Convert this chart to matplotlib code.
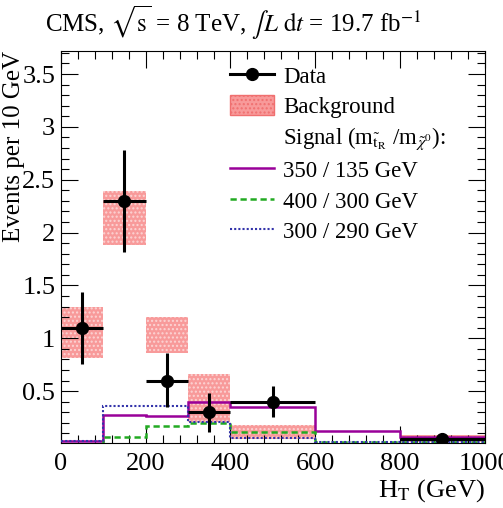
"""H_T distribution: data, background band and three signal points."""

import matplotlib
matplotlib.use("Agg")
import matplotlib.pyplot as plt
from matplotlib.lines import Line2D
from matplotlib.patches import Patch
from matplotlib.ticker import MultipleLocator

# bin edges (GeV) and content per 10 GeV
edges = [0, 100, 200, 300, 400, 600, 800, 1000]

data_x = [50, 150, 250, 350, 500, 900]
data_xerr = [50, 50, 50, 50, 100, 100]
data_y = [1.10, 2.30, 0.60, 0.30, 0.40, 0.047]
data_err_lo = [0.34, 0.48, 0.25, 0.185, 0.145, 0.0]
data_err_hi = [0.34, 0.48, 0.26, 0.18, 0.15, 0.0]

bkg_lo = [0.81, 1.88, 0.86, 0.21, 0.05, 0.0, 0.02]
bkg_hi = [1.30, 2.39, 1.20, 0.66, 0.18, 0.0, 0.09]

sig_350_135 = [0.03, 0.275, 0.265, 0.395, 0.35, 0.12, 0.062]
sig_400_300 = [0.005, 0.065, 0.17, 0.20, 0.11, 0.02, 0.02]
sig_300_290 = [0.03, 0.36, 0.36, 0.21, 0.055, 0.02, 0.02]

plt.rcParams["font.family"] = ["Liberation Serif", "DejaVu Serif"]
plt.rcParams["mathtext.fontset"] = "stix"
plt.rcParams["hatch.linewidth"] = 1.0

fig = plt.figure(figsize=(5.03, 5.08), dpi=100)
ax = fig.add_axes([0.121, 0.128, 0.843, 0.772])

# background boxes
for i in range(len(bkg_lo)):
    if bkg_hi[i] - bkg_lo[i] <= 0:
        continue
    ax.bar(edges[i], bkg_hi[i] - bkg_lo[i], width=edges[i + 1] - edges[i],
           bottom=bkg_lo[i], align="edge", facecolor="#f89a9a",
           edgecolor="#fcd4d4", hatch="....", linewidth=0, zorder=1)

ax.stairs(sig_350_135, edges, baseline=None, color="#990099", lw=1.8, zorder=3)
ax.stairs(sig_400_300, edges, baseline=None, color="#22aa22", lw=1.8,
          linestyle=(0, (2.5, 1.5)), zorder=3)
ax.stairs(sig_300_290, edges, baseline=None, color="#3333aa", lw=1.5,
          linestyle=(0, (1, 1)), zorder=3)

ax.errorbar(data_x, data_y, xerr=data_xerr, yerr=[data_err_lo, data_err_hi],
            fmt="o", color="black", ms=8.5, elinewidth=2.2, capsize=0, zorder=5)

ax.set_xlim(0, 1000)
ax.set_ylim(0.01, 3.72)
ax.xaxis.set_major_locator(MultipleLocator(200))
ax.xaxis.set_minor_locator(MultipleLocator(40))
ax.set_yticks([0.5, 1, 1.5, 2, 2.5, 3, 3.5])
ax.set_yticklabels(["0.5", "1", "1.5", "2", "2.5", "3", "3.5"])
ax.yaxis.set_minor_locator(MultipleLocator(0.1))
ax.tick_params(which="both", direction="in", top=True, right=True,
               labelsize=19, width=0.8)
ax.tick_params(axis="x", pad=7)
ax.tick_params(axis="y", pad=4)
ax.tick_params(which="major", length=12)
ax.tick_params(which="minor", length=6)
for s in ax.spines.values():
    s.set_linewidth(0.8)

ax.set_xlabel(r"H$_\mathrm{T}$ (GeV)", loc="right", fontsize=19, labelpad=2)
ax.set_ylabel("Events per 10 GeV", loc="top", fontsize=18)
ax.yaxis.set_label_coords(-0.085, 1.0)

fig.text(0.089, 0.937,
         r"CMS, $\sqrt{\mathrm{s}}$ = 8 TeV, $\int L\ \mathrm{d}t$ = 19.7 fb$^{\mathrm{-1}}$",
         fontsize=18, ha="left", va="baseline")

handles = [
    Line2D([], [], color="black", marker="o", ms=8.5, lw=2.2),
    Patch(facecolor="#f89a9a", edgecolor="#f07070", hatch="....", lw=1),
    Line2D([], [], color="none"),
    Line2D([], [], color="#990099", lw=1.8),
    Line2D([], [], color="#22aa22", lw=1.8, linestyle=(0, (2.5, 1.5))),
    Line2D([], [], color="#3333aa", lw=1.5, linestyle=(0, (1, 1))),
]
labels = [
    "Data",
    "Background",
    r"Signal (m$_{\tilde{\mathrm{t}}_\mathrm{R}}$ /m$_{\tilde{\chi}^0}$):",
    "350 / 135 GeV",
    "400 / 300 GeV",
    "300 / 290 GeV",
]
ax.legend(handles, labels, loc="upper left", bbox_to_anchor=(0.40, 0.965),
          frameon=False, fontsize=16.5, handlelength=1.9, handleheight=1.0,
          labelspacing=0.32, handletextpad=0.4, borderaxespad=0.0,
          borderpad=0.0)

fig.savefig("out.png", dpi=100)
